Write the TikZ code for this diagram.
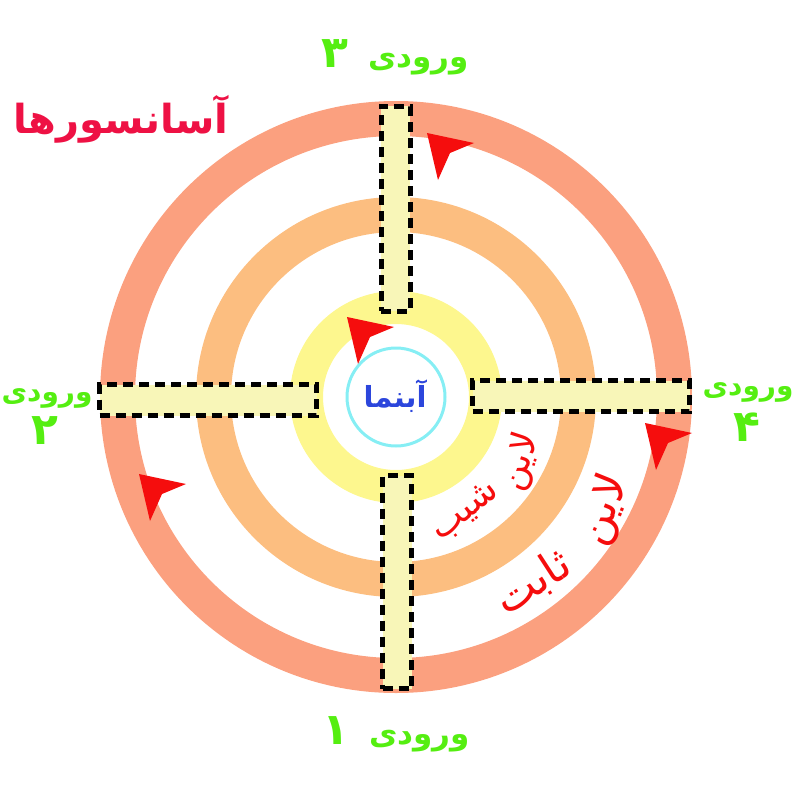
\documentclass[tikz,border=0pt]{standalone}
\usepackage{fontspec}
\newfontfamily\fa[Script=Arabic]{DejaVu Sans}
\TeXXeTstate=1
\definecolor{outerc}{HTML}{FBA07F}
\definecolor{midc}{HTML}{FCBE80}
\definecolor{innerc}{HTML}{FDF78E}
\definecolor{barc}{HTML}{F8F6B8}
\definecolor{cyanc}{HTML}{86EEF4}
\definecolor{greenc}{HTML}{55EE11}
\definecolor{crimc}{HTML}{EE1144}
\definecolor{redc}{HTML}{F50D0D}
\definecolor{bluec}{HTML}{2C46DC}
\tikzset{
  ring/.style={line width=#1},
  bar/.style={draw=black, fill=barc, line width=5pt, dash pattern=on 10pt off 6pt, inner sep=0pt},
  ent/.style={text=greenc, font=\fa\bfseries\fontsize{31}{36}\selectfont, inner sep=0pt},
  sideent/.style={text=greenc, font=\fa\bfseries\fontsize{28}{32}\selectfont, inner sep=0pt},
  lab/.style={text=redc, inner sep=0pt},
  arr/.style={fill=redc}
}
\newcommand\redarrow[1]{\fill[arr] (#1) -- ++(47,10) -- ++(-24,10) -- ++(-12,27) -- cycle;}
\newcommand\bigdig[1]{{\fontsize{44}{44}\selectfont #1}}
\begin{document}
\begin{tikzpicture}[x=1pt,y=-1pt]
\useasboundingbox (0,0) rectangle (800,800);
\coordinate (c) at (396,397);
% rings
\draw[ring=35pt, draw=outerc] (c) circle[radius=278.5];
\draw[ring=35pt, draw=midc] (c) circle[radius=182.5];
\draw[ring=33pt, draw=innerc] (c) circle[radius=89.5];
\draw[line width=3pt, draw=cyanc] (c) circle[radius=49];
% bars
\node[bar, minimum width=29pt, minimum height=205pt] (b3) at (395.5,208.5) {};
\node[bar, minimum width=29pt, minimum height=213pt] (b1) at (397,582) {};
\node[bar, minimum width=217pt, minimum height=31pt] (b2) at (208,400) {};
\node[bar, minimum width=217pt, minimum height=31pt] (b4) at (581,396) {};
% arrows
\coordinate (a3) at (427,133);
\coordinate (a2) at (139,474);
\coordinate (a4) at (645,423);
\coordinate (a0) at (347,317);
\redarrow{a3}
\redarrow{a2}
\redarrow{a4}
\redarrow{a0}
% texts
\node[ent] (t3) at (395,57) {\beginR ورودی\hspace{20pt}\bigdig{۳}\endR};
\node[ent] (t1) at (396,734) {\beginR ورودی\hspace{20pt}\bigdig{۱}\endR};
\node[sideent] (t2a) at (47,398) {\beginR ورودی\endR};
\node[sideent] (t2b) at (45,431) {\bigdig{۲}};
\node[sideent] (t4a) at (748,392) {\beginR ورودی\endR};
\node[sideent] (t4b) at (747,427) {\bigdig{۴}};
\node[text=crimc, font=\fa\bfseries\fontsize{40}{44}\selectfont, inner sep=0pt] (elev) at (121,119) {\beginR آسانسورها\endR};
\node[text=bluec, font=\fa\bfseries\fontsize{29}{32}\selectfont, inner sep=0pt] (pool) at (395,396) {\beginR آبنما\endR};
\node[lab, font=\fa\fontsize{36}{40}\selectfont, rotate=72] (s1) at (521,462) {\beginR لاین\endR};
\node[lab, font=\fa\fontsize{36}{40}\selectfont, rotate=38] (s2) at (466,512) {\beginR شیب\endR};
\node[lab, font=\fa\fontsize{44}{48}\selectfont, rotate=68] (f1) at (605,510) {\beginR لاین\endR};
\node[lab, font=\fa\fontsize{44}{48}\selectfont, rotate=33] (f2) at (533,583) {\beginR ثابت\endR};
\end{tikzpicture}
\end{document}
